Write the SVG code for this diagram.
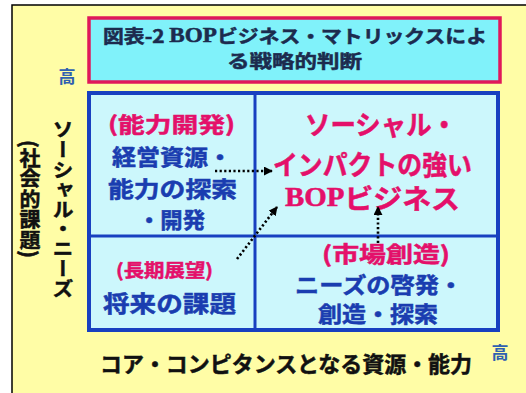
<svg xmlns="http://www.w3.org/2000/svg" width="526" height="393" viewBox="0 0 526 393">
<style>
text{font-family:"Noto Sans CJK JP","Noto Sans",sans-serif;font-weight:bold;dominant-baseline:central;stroke-width:0.5;paint-order:stroke}
.serif{font-family:"Liberation Serif","Noto Sans CJK JP",serif}
.pink{fill:#E4106A;stroke:#E4106A}
.blue{fill:#1A3DB0;stroke:#1A3DB0}
.navy{fill:#1C2B4E;stroke:#1C2B4E}
.blk{fill:#111;stroke:#111}
.ax{fill:#3060B0}
.conn{stroke:#000;stroke-width:2.6;stroke-dasharray:2.2 2.4;fill:none}
</style>
<defs>
<marker id="ah" viewBox="0 0 10 10" refX="9" refY="5" markerWidth="9" markerHeight="9" markerUnits="userSpaceOnUse" orient="auto">
<path d="M0,0 L10,5 L0,10 z" fill="#000"/>
</marker>
</defs>
<rect x="0" y="0" width="526" height="393" fill="#fff"/>
<rect x="12" y="5" width="520" height="400" fill="#FFFDA6" stroke="#000" stroke-width="1.5"/>

<g id="title">
<rect x="89" y="18" width="411" height="64" fill="#80F2FA" stroke="#E0185A" stroke-width="3.5"/>
<text class="navy" x="103" y="35" font-size="18" textLength="384" lengthAdjust="spacingAndGlyphs">図表-2 <tspan class="serif" font-size="20">BOP</tspan>ビジネス・マトリックスによ</text>
<text class="navy" x="227" y="60" font-size="18" textLength="135" lengthAdjust="spacingAndGlyphs">る戦略的判断</text>
</g>

<g id="axis-high-y"><text class="ax" x="67" y="75" font-size="17" text-anchor="middle">高</text></g>
<g id="axis-high-x"><text class="ax" x="500" y="351" font-size="17" text-anchor="middle">高</text></g>

<g id="matrix">
<rect x="89" y="93" width="409" height="237" fill="#CCF7FC" stroke="#1840C0" stroke-width="4"/>
<line x1="255" y1="93" x2="255" y2="330" stroke="#1840C0" stroke-width="3"/>
<line x1="89" y1="236" x2="498" y2="236" stroke="#1840C0" stroke-width="3"/>
</g>

<g id="cell-tl">
<text class="pink" x="108" y="123" font-size="21" textLength="127" lengthAdjust="spacingAndGlyphs">(能力開発)</text>
<text class="blue" x="112" y="155" font-size="22" textLength="120" lengthAdjust="spacingAndGlyphs">経営資源・</text>
<text class="blue" x="108" y="187" font-size="22" textLength="129" lengthAdjust="spacingAndGlyphs">能力の探索</text>
<text class="blue" x="138" y="218" font-size="22" textLength="67" lengthAdjust="spacingAndGlyphs">・開発</text>
</g>

<g id="cell-tr">
<text class="pink" x="305" y="123" font-size="27" textLength="152" lengthAdjust="spacingAndGlyphs">ソーシャル・</text>
<text class="pink" x="273" y="163" font-size="27" textLength="199" lengthAdjust="spacingAndGlyphs">インパクトの強い</text>
<text class="pink" x="285" y="197" font-size="27" textLength="175" lengthAdjust="spacingAndGlyphs"><tspan class="serif">BOP</tspan>ビジネス</text>
</g>

<g id="cell-bl">
<text class="pink" x="116" y="269" font-size="18" textLength="97" lengthAdjust="spacingAndGlyphs">(長期展望)</text>
<text class="blue" x="103" y="302" font-size="23" textLength="133" lengthAdjust="spacingAndGlyphs">将来の課題</text>
</g>

<g id="cell-br">
<text class="pink" x="322" y="252" font-size="22" textLength="128" lengthAdjust="spacingAndGlyphs">(市場創造)</text>
<text class="blue" x="295" y="283" font-size="22" textLength="168" lengthAdjust="spacingAndGlyphs">ニーズの啓発・</text>
<text class="blue" x="318" y="312" font-size="22" textLength="120" lengthAdjust="spacingAndGlyphs">創造・探索</text>
</g>

<g id="axis-y">
<text class="blk" x="63" y="120" font-size="21" writing-mode="vertical-rl" textLength="178" lengthAdjust="spacingAndGlyphs">ソーシャル・ニーズ</text>
<text class="blk" x="30" y="140" font-size="21" writing-mode="vertical-rl" textLength="118" lengthAdjust="spacingAndGlyphs">(社会的課題)</text>
</g>

<g id="axis-x">
<text class="blk" x="100" y="362" font-size="22" textLength="372" lengthAdjust="spacingAndGlyphs">コア・コンピタンスとなる資源・能力</text>
</g>

<g id="connectors">
<line class="conn" x1="215" y1="171" x2="272" y2="171" marker-end="url(#ah)"/>
<line class="conn" x1="237" y1="259" x2="277" y2="207" marker-end="url(#ah)"/>
<line class="conn" x1="378" y1="243" x2="378" y2="207" marker-end="url(#ah)"/>
</g>
</svg>
